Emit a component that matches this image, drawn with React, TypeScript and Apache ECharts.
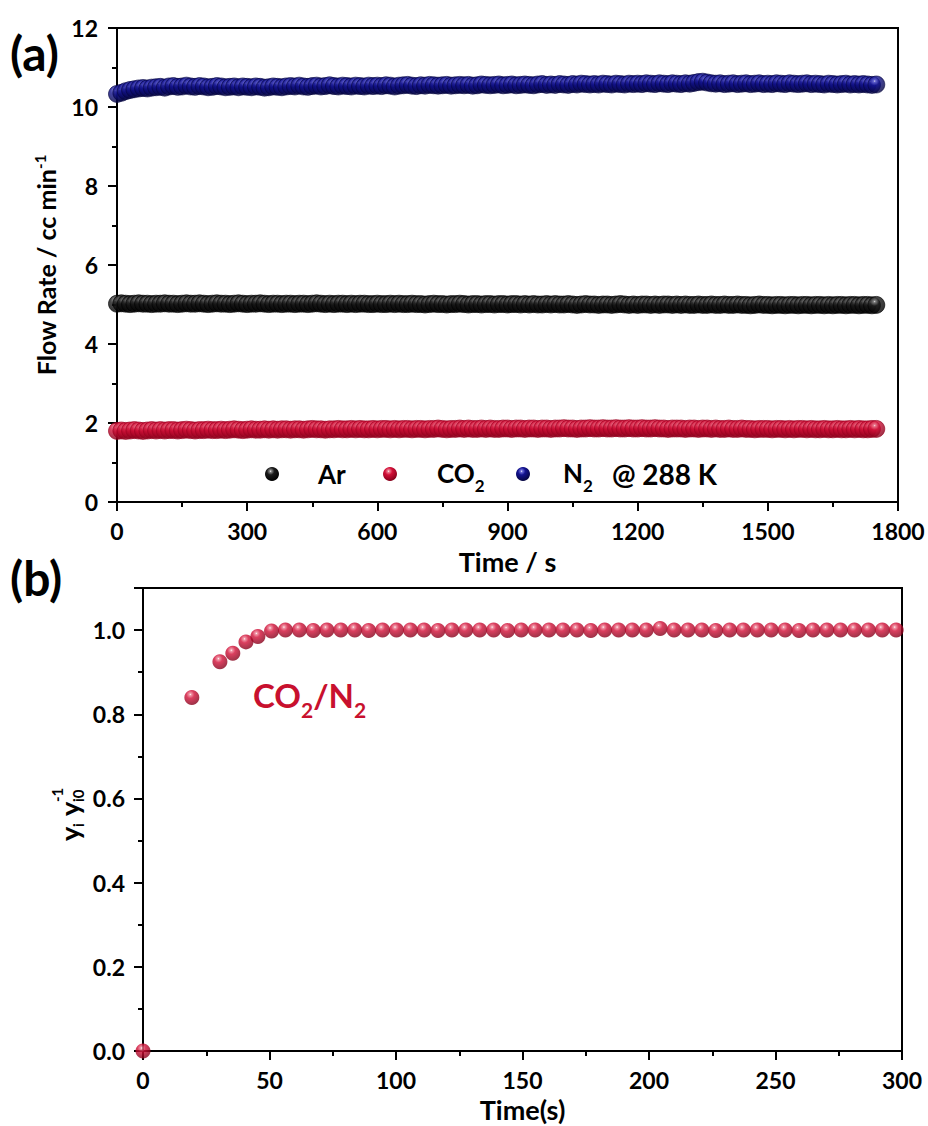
import React, { useEffect, useRef } from "react";
import * as echarts from "echarts";

// ---------- Panel (a): flow rates ----------
const timeA = [
  0, 10, 20, 30, 40, 50, 60, 70, 80, 90,
  100, 110, 120, 130, 140, 150, 160, 170, 180, 190,
  200, 210, 220, 230, 240, 250, 260, 270, 280, 290,
  300, 310, 320, 330, 340, 350, 360, 370, 380, 390,
  400, 410, 420, 430, 440, 450, 460, 470, 480, 490,
  500, 510, 520, 530, 540, 550, 560, 570, 580, 590,
  600, 610, 620, 630, 640, 650, 660, 670, 680, 690,
  700, 710, 720, 730, 740, 750, 760, 770, 780, 790,
  800, 810, 820, 830, 840, 850, 860, 870, 880, 890,
  900, 910, 920, 930, 940, 950, 960, 970, 980, 990,
  1000, 1010, 1020, 1030, 1040, 1050, 1060, 1070, 1080, 1090,
  1100, 1110, 1120, 1130, 1140, 1150, 1160, 1170, 1180, 1190,
  1200, 1210, 1220, 1230, 1240, 1250, 1260, 1270, 1280, 1290,
  1300, 1310, 1320, 1330, 1340, 1350, 1360, 1370, 1380, 1390,
  1400, 1410, 1420, 1430, 1440, 1450, 1460, 1470, 1480, 1490,
  1500, 1510, 1520, 1530, 1540, 1550, 1560, 1570, 1580, 1590,
  1600, 1610, 1620, 1630, 1640, 1650, 1660, 1670, 1680, 1690,
  1700, 1710, 1720, 1730, 1740, 1750,
];

const arFlow = [
  5.02, 5.03, 5.02, 5.01, 5.02, 5.03, 5.02, 5.02, 5.01, 5.02,
  5.02, 5.03, 5.02, 5.02, 5.01, 5.02, 5.03, 5.02, 5.02, 5.03,
  5.02, 5.01, 5.02, 5.03, 5.02, 5.02, 5.01, 5.02, 5.03, 5.02,
  5.01, 5.02, 5.02, 5.03, 5.02, 5.01, 5.02, 5.02, 5.01, 5.02,
  5.02, 5.01, 5.02, 5.02, 5.01, 5.02, 5.03, 5.02, 5.01, 5.02,
  5.01, 5.02, 5.02, 5.01, 5.02, 5.01, 5.02, 5.02, 5.01, 5.01,
  5.02, 5.01, 5.01, 5.02, 5.01, 5.02, 5.01, 5.01, 5.02, 5.01,
  5.01, 5.0, 5.01, 5.02, 5.01, 5.01, 5.0, 5.01, 5.01, 5.02,
  5.01, 5.0, 5.01, 5.01, 5.0, 5.01, 5.01, 5.0, 5.01, 5.01,
  5.0, 5.01, 5.01, 5.0, 5.01, 5.0, 5.01, 5.0, 5.0, 5.01,
  5.0, 5.01, 5.0, 5.0, 5.01, 5.0, 4.99, 5.0, 5.01, 5.0,
  5.0, 4.99, 5.0, 5.0, 4.99, 5.0, 5.01, 5.0, 4.99, 5.0,
  4.99, 5.0, 5.0, 4.99, 5.0, 4.99, 5.0, 5.0, 4.99, 5.0,
  4.99, 5.0, 4.99, 4.99, 5.0, 4.99, 4.99, 5.0, 4.99, 4.99,
  5.0, 4.99, 4.99, 5.0, 4.99, 4.99, 4.98, 4.99, 5.0, 4.99,
  4.99, 4.98, 4.99, 4.99, 4.98, 4.99, 4.99, 4.98, 4.99, 4.99,
  4.98, 4.99, 4.99, 4.98, 4.99, 4.98, 4.99, 4.99, 4.98, 4.99,
  4.99, 4.98, 4.99, 4.99, 4.98, 4.99,
];

const co2Flow = [
  1.8, 1.81, 1.8, 1.81, 1.82, 1.81, 1.8, 1.81, 1.82, 1.81,
  1.82, 1.81, 1.82, 1.82, 1.81, 1.82, 1.83, 1.82, 1.81, 1.82,
  1.82, 1.83, 1.82, 1.82, 1.83, 1.82, 1.83, 1.84, 1.83, 1.82,
  1.83, 1.84, 1.83, 1.83, 1.84, 1.83, 1.84, 1.83, 1.84, 1.84,
  1.83, 1.84, 1.84, 1.83, 1.84, 1.85, 1.84, 1.84, 1.83, 1.84,
  1.84, 1.85, 1.84, 1.84, 1.85, 1.84, 1.85, 1.84, 1.84, 1.85,
  1.84, 1.85, 1.85, 1.84, 1.85, 1.84, 1.85, 1.85, 1.84, 1.85,
  1.85, 1.84, 1.85, 1.85, 1.86, 1.85, 1.84, 1.85, 1.85, 1.86,
  1.85, 1.86, 1.85, 1.85, 1.86, 1.85, 1.86, 1.85, 1.85, 1.86,
  1.86, 1.85, 1.86, 1.86, 1.85, 1.86, 1.86, 1.85, 1.86, 1.86,
  1.85, 1.86, 1.86, 1.87, 1.86, 1.86, 1.85, 1.86, 1.86, 1.87,
  1.86, 1.86, 1.87, 1.86, 1.86, 1.87, 1.86, 1.86, 1.87, 1.86,
  1.86, 1.87, 1.86, 1.86, 1.87, 1.86, 1.86, 1.85, 1.86, 1.86,
  1.86, 1.85, 1.86, 1.86, 1.85, 1.86, 1.86, 1.85, 1.86, 1.85,
  1.85, 1.86, 1.85, 1.85, 1.86, 1.85, 1.85, 1.84, 1.85, 1.85,
  1.85, 1.84, 1.85, 1.85, 1.84, 1.85, 1.84, 1.85, 1.85, 1.84,
  1.85, 1.84, 1.84, 1.85, 1.84, 1.84, 1.85, 1.84, 1.84, 1.85,
  1.84, 1.85, 1.84, 1.84, 1.85, 1.85,
];

const n2Flow = [
  10.33, 10.36, 10.4, 10.43, 10.45, 10.47, 10.48, 10.47, 10.49, 10.5,
  10.51, 10.49, 10.52, 10.53, 10.51, 10.52, 10.54, 10.52, 10.51, 10.53,
  10.52, 10.5, 10.51, 10.53, 10.52, 10.5, 10.51, 10.52, 10.5, 10.52,
  10.51, 10.5, 10.52, 10.51, 10.49, 10.5, 10.52, 10.51, 10.5, 10.52,
  10.53, 10.52, 10.54, 10.52, 10.51, 10.53, 10.54, 10.52, 10.53, 10.55,
  10.53, 10.52, 10.54, 10.53, 10.52, 10.54, 10.53, 10.52, 10.54, 10.53,
  10.54, 10.53, 10.55, 10.54, 10.52, 10.54, 10.55, 10.56, 10.54, 10.53,
  10.55, 10.54, 10.56, 10.55, 10.54, 10.55, 10.56, 10.54, 10.55, 10.56,
  10.55, 10.56, 10.54, 10.55, 10.57, 10.56, 10.55, 10.56, 10.57, 10.55,
  10.56, 10.57, 10.55, 10.56, 10.57, 10.56, 10.55, 10.57, 10.58, 10.56,
  10.57, 10.56, 10.58, 10.57, 10.56, 10.58, 10.57, 10.59, 10.58, 10.57,
  10.58, 10.57, 10.59, 10.58, 10.57, 10.59, 10.58, 10.57, 10.59, 10.58,
  10.59, 10.58, 10.6, 10.59, 10.58, 10.6, 10.59, 10.58, 10.6, 10.59,
  10.58, 10.6, 10.59, 10.61, 10.63, 10.64, 10.62, 10.6, 10.59, 10.6,
  10.58, 10.59, 10.6, 10.58, 10.59, 10.6, 10.58, 10.59, 10.6, 10.58,
  10.59, 10.58, 10.6, 10.59, 10.58, 10.6, 10.59, 10.58, 10.59, 10.6,
  10.58, 10.59, 10.58, 10.57, 10.59, 10.58, 10.57, 10.58, 10.59, 10.57,
  10.58, 10.57, 10.58, 10.57, 10.56, 10.57,
];

const xTicksA = { min: 0, max: 1800, interval: 300 };
const yTicksA = { min: 0, max: 12, interval: 2 };

// ---------- Panel (b): CO2/N2 normalised ratio ----------
const timeB = [
  0, 19.3, 30.4, 35.5, 40.7, 45.4, 50.8, 56.3, 61.8, 67.3,
  72.7, 78.2, 83.7, 89.2, 94.7, 100.2, 105.7, 111.1, 116.6, 122.1,
  127.6, 133.1, 138.6, 144.1, 149.5, 155.0, 160.5, 166.0, 171.5, 177.0,
  182.5, 188.0, 193.4, 198.9, 204.4, 209.9, 215.4, 220.9, 226.4, 231.9,
  237.3, 242.8, 248.3, 253.8, 259.3, 264.8, 270.3, 275.7, 281.2, 286.7,
  292.2, 297.7,
];

const ratioB = [
  0.0, 0.84, 0.925, 0.945, 0.972, 0.985, 0.998, 1.0, 1.0, 0.999,
  1.0, 1.0, 1.0, 0.999, 1.0, 1.0, 1.0, 1.0, 0.999, 1.0,
  1.0, 1.0, 1.0, 0.999, 1.0, 1.0, 1.0, 1.0, 1.0, 0.999,
  1.0, 1.0, 1.0, 1.0, 1.004, 1.0, 1.0, 1.0, 0.999, 1.0,
  1.0, 1.0, 1.0, 1.0, 0.999, 1.0, 1.0, 1.0, 1.0, 1.0,
  1.0, 1.0,
];

const xTicksB = { min: 0, max: 300, interval: 50 };
const yTicksB = { min: 0, max: 1.1, interval: 0.2 };

const FONT = "Lato";
const RED_TEXT = "#c8102e";
const TITLE_SIZE = 27;
const TICK_SIZE = 23;

function ball(light: string, mid: string, dark: string) {
  return new echarts.graphic.RadialGradient(0.4, 0.3, 0.7, [
    { offset: 0, color: "#ffffff" },
    { offset: 0.1, color: light },
    { offset: 0.38, color: mid },
    { offset: 1, color: dark },
  ]);
}

const BLACK_BALL = () => ball("#8a8a8a", "#1a1a1a", "#000000");
const RED_BALL = () => ball("#ee8295", "#d20f37", "#85001a");
const BLUE_BALL = () => ball("#7070dc", "#12128f", "#050540");

function zip(xs: number[], ys: number[]) {
  return xs.map((x, i) => [x, ys[i]]);
}

const axisCommon = {
  axisLine: { show: true, lineStyle: { color: "#000", width: 2 } },
  axisTick: { show: true, inside: false, length: 9, lineStyle: { color: "#000", width: 2 } },
  minorTick: { show: true, splitNumber: 2, length: 5, lineStyle: { color: "#000", width: 2 } },
  splitLine: { show: false },
  minorSplitLine: { show: false },
  axisLabel: { color: "#000", fontSize: TICK_SIZE, fontWeight: "bold", fontFamily: FONT, lineHeight: 26 },
  nameTextStyle: { color: "#000", fontSize: TITLE_SIZE, fontWeight: "bold", fontFamily: FONT, lineHeight: 28 },
};

const plainNum = (v: number) => String(v);

export default function App() {
  const ref = useRef<HTMLDivElement>(null);

  useEffect(() => {
    if (!ref.current) return;
    const chart = echarts.init(ref.current, undefined, { renderer: "svg" });

    const sub = (size: number, color: string) => ({
      fontSize: size, fontWeight: "bold", fontFamily: FONT, fill: color, color, verticalAlign: "bottom",
    });

    const option: any = {
      animation: false,
      backgroundColor: "#ffffff",
      grid: [
        { left: 117, top: 28, width: 781, height: 474, show: true, borderColor: "#000", borderWidth: 2 },
        { left: 143, top: 588, width: 759, height: 463, show: true, borderColor: "#000", borderWidth: 2 },
      ],
      xAxis: [
        {
          ...axisCommon,
          gridIndex: 0,
          type: "value",
          ...xTicksA,
          axisLabel: { ...axisCommon.axisLabel, margin: 16, formatter: plainNum },
          name: "Time / s",
          nameLocation: "middle",
          nameGap: 45,
        },
        {
          ...axisCommon,
          gridIndex: 1,
          type: "value",
          ...xTicksB,
          axisLabel: { ...axisCommon.axisLabel, margin: 16, formatter: plainNum },
          name: "Time(s)",
          nameLocation: "middle",
          nameGap: 44,
        },
      ],
      yAxis: [
        {
          ...axisCommon,
          gridIndex: 0,
          type: "value",
          ...yTicksA,
          axisLabel: { ...axisCommon.axisLabel, margin: 19, formatter: plainNum },
          name: "{a|Flow Rate / cc min}{sup|-1}",
          nameLocation: "middle",
          nameGap: 18,
          nameTextStyle: {
            ...axisCommon.nameTextStyle,
            rich: {
              a: { fontSize: 25, fontWeight: "bold", fontFamily: FONT, color: "#000", lineHeight: 28 },
              sup: { fontSize: 15, fontWeight: "bold", fontFamily: FONT, color: "#000", verticalAlign: "top", lineHeight: 28 },
            },
          },
        },
        {
          ...axisCommon,
          gridIndex: 1,
          type: "value",
          ...yTicksB,
          axisLabel: {
            ...axisCommon.axisLabel,
            margin: 18,
            showMaxLabel: false,
            formatter: (v: number) => (v > 1.05 ? "" : v.toFixed(1)),
          },
        },
      ],
      series: [
        {
          name: "Ar",
          type: "scatter",
          xAxisIndex: 0,
          yAxisIndex: 0,
          symbol: "circle",
          symbolSize: 17,
          itemStyle: { color: BLACK_BALL(), borderColor: "#000", borderWidth: 0.8 },
          data: zip(timeA, arFlow),
        },
        {
          name: "CO2",
          type: "scatter",
          xAxisIndex: 0,
          yAxisIndex: 0,
          symbol: "circle",
          symbolSize: 17,
          itemStyle: { color: RED_BALL(), borderColor: "#9a0020", borderWidth: 0.8 },
          data: zip(timeA, co2Flow),
        },
        {
          name: "N2",
          type: "scatter",
          xAxisIndex: 0,
          yAxisIndex: 0,
          symbol: "circle",
          symbolSize: 17,
          itemStyle: { color: BLUE_BALL(), borderColor: "#050540", borderWidth: 0.8 },
          data: zip(timeA, n2Flow),
        },
        {
          name: "CO2/N2",
          type: "scatter",
          xAxisIndex: 1,
          yAxisIndex: 1,
          symbol: "circle",
          symbolSize: 15,
          clip: true,
          itemStyle: { color: RED_BALL() },
          data: zip(timeB, ratioB),
        },
      ],
      graphic: [
        // panel labels
        {
          type: "text",
          left: 10,
          top: 28,
          style: { text: "(a)", fontSize: 48, fontWeight: "bold", fontFamily: FONT, fill: "#000" },
        },
        {
          type: "text",
          left: 10,
          top: 553,
          style: { text: "(b)", fontSize: 48, fontWeight: "bold", fontFamily: FONT, fill: "#000" },
        },
        // legend of panel (a)
        { type: "circle", shape: { cx: 272, cy: 474, r: 7 }, style: { fill: BLACK_BALL() } },
        {
          type: "text",
          x: 318,
          y: 474,
          style: { text: "Ar", fontSize: 26, fontWeight: "bold", fontFamily: FONT, fill: "#000", verticalAlign: "middle" },
        },
        { type: "circle", shape: { cx: 390, cy: 474, r: 7 }, style: { fill: RED_BALL() } },
        {
          type: "text",
          x: 437,
          y: 477,
          style: {
            text: "{a|CO}{s|2}",
            verticalAlign: "middle",
            rich: {
              a: { fontSize: 26, fontWeight: "bold", fontFamily: FONT, fill: "#000", lineHeight: 34, verticalAlign: "top" },
              s: { ...sub(17, "#000"), lineHeight: 34 },
            },
          },
        },
        { type: "circle", shape: { cx: 523, cy: 474, r: 7 }, style: { fill: BLUE_BALL() } },
        {
          type: "text",
          x: 563,
          y: 477,
          style: {
            text: "{a|N}{s|2}{b|@ 288 K}",
            verticalAlign: "middle",
            rich: {
              a: { fontSize: 26, fontWeight: "bold", fontFamily: FONT, fill: "#000", lineHeight: 34, verticalAlign: "top" },
              b: { fontSize: 28, fontWeight: "bold", fontFamily: FONT, fill: "#000", lineHeight: 34, verticalAlign: "top", padding: [0, 0, 0, 19] },
              s: { ...sub(17, "#000"), lineHeight: 34 },
            },
          },
        },
        // annotation panel (b)
        {
          type: "text",
          x: 253,
          y: 699,
          style: {
            text: "{a|CO}{s|2}{a|/N}{s|2}",
            verticalAlign: "middle",
            rich: {
              a: { fontSize: 33, fontWeight: "bold", fontFamily: FONT, fill: RED_TEXT, lineHeight: 42, verticalAlign: "top" },
              s: { ...sub(21, RED_TEXT), lineHeight: 42 },
            },
          },
        },
        // y axis title of panel (b): y_i y_i0^-1 (rotated)
        {
          type: "group",
          x: 69,
          y: 810,
          rotation: Math.PI / 2,
          children: [
            { type: "text", x: -31, y: 0, style: { text: "y", fontSize: 27, fontWeight: "bold", fontFamily: FONT, fill: "#000", verticalAlign: "middle" } },
            { type: "text", x: -17, y: 9, style: { text: "i", fontSize: 15, fontWeight: "bold", fontFamily: FONT, fill: "#000", verticalAlign: "middle" } },
            { type: "text", x: -6, y: 0, style: { text: "y", fontSize: 27, fontWeight: "bold", fontFamily: FONT, fill: "#000", verticalAlign: "middle" } },
            { type: "text", x: 8, y: -12, style: { text: "-1", fontSize: 15, fontWeight: "bold", fontFamily: FONT, fill: "#000", verticalAlign: "middle" } },
            { type: "text", x: 8, y: 9, style: { text: "i0", fontSize: 15, fontWeight: "bold", fontFamily: FONT, fill: "#000", verticalAlign: "middle" } },
          ],
        },
      ],
    };

    chart.setOption(option);
    return () => chart.dispose();
  }, []);

  return (
    <div
      ref={ref}
      style={{ position: "absolute", left: 0, top: 0, width: 928, height: 1126, background: "#fff" }}
    />
  );
}
